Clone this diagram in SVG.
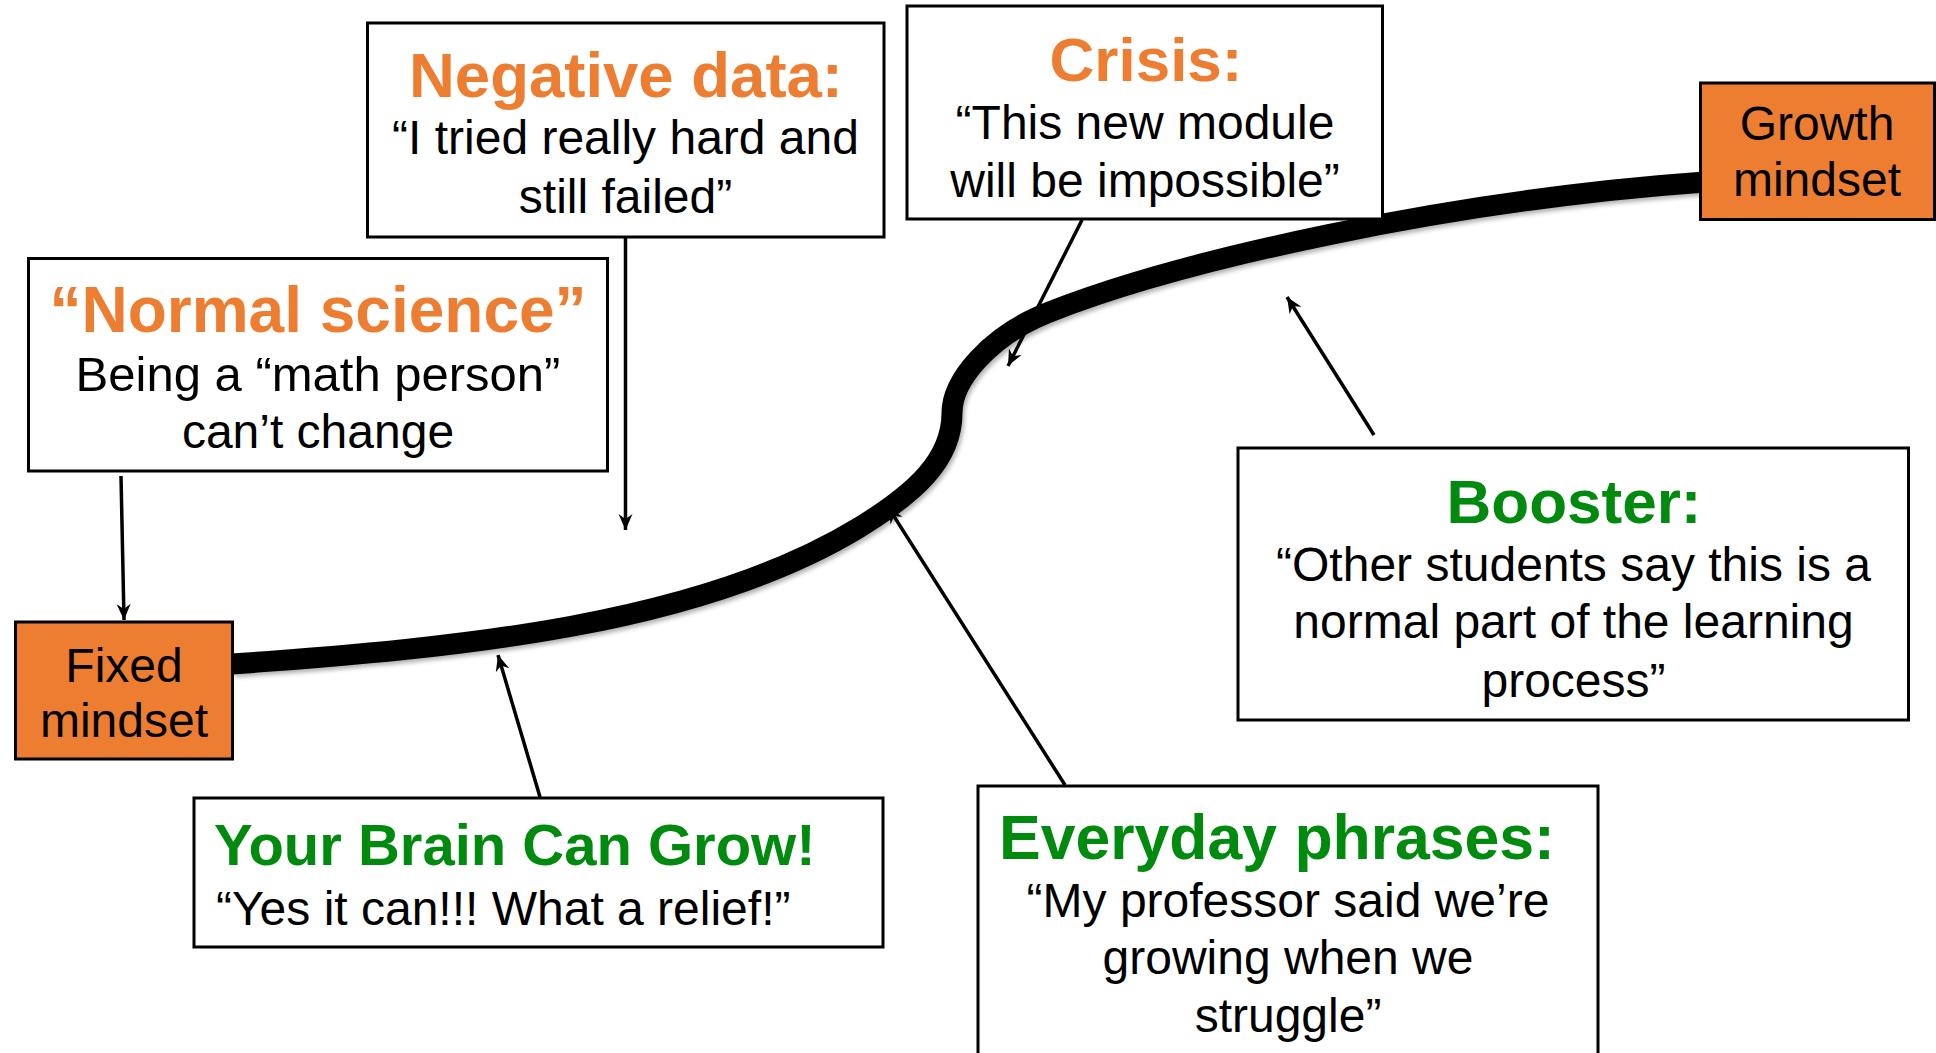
<svg xmlns="http://www.w3.org/2000/svg" width="1936" height="1053" viewBox="0 0 1936 1053">
  <style>
    .box{fill:#fff;stroke:#000;stroke-width:3}
    .mind{fill:#ED7D31;stroke:#000;stroke-width:3}
    .title{font-family:"Liberation Sans",Arial,sans-serif;font-weight:bold;font-size:62px}
    .orange{fill:#ED7D31}
    .green{fill:#008A0E}
    .body{font-family:"Liberation Sans",Arial,sans-serif;font-size:48px;fill:#000}
    .c{text-anchor:middle}
    .conn{stroke:#000;stroke-width:3.5;fill:none;marker-end:url(#arrow)}
    .journey{stroke:#000;stroke-width:21;fill:none;stroke-linecap:butt}
  </style>
  <defs>
    <marker id="arrow" markerUnits="userSpaceOnUse" viewBox="-17 -8 18 16" refX="0" refY="0" markerWidth="18" markerHeight="16" orient="auto">
      <path d="M0,0 L-16,-7 L-11,0 L-16,7 Z" fill="#000"/>
    </marker>
    <filter id="shadow" x="-5%" y="-10%" width="110%" height="130%">
      <feDropShadow dx="2" dy="3" stdDeviation="2" flood-color="#000" flood-opacity="0.3"/>
    </filter>
  </defs>

  <rect width="1936" height="1053" fill="#fff"/>

  <!-- the road from fixed to growth mindset -->
  <g id="journey">
    <path class="journey" filter="url(#shadow)" d="M232,664 C460,648 700,625 860,527 C915,493 952,460 952,413 C952,380 990,336 1047,313 C1180,260 1450,200 1705,182"/>
  </g>

  <!-- thin arrows between the boxes and the road -->
  <g id="connectors">
    <path class="conn" d="M121,476 L124,620"/>
    <path class="conn" d="M625.5,237 L625.5,530"/>
    <path class="conn" d="M1082,220 L1008,366"/>
    <path class="conn" d="M1374,435 L1287,297"/>
    <path class="conn" d="M540,797 L498,655"/>
    <path class="conn" d="M1065,785 L888,507"/>
  </g>

  <g id="negative-data">
    <rect class="box" x="367.5" y="23" width="516.5" height="214"/>
    <text class="title orange c" x="626" y="96.5" style="font-size:63.5px">Negative data:</text>
    <text class="body c" x="625.5" y="154.3">“I tried really hard and</text>
    <text class="body c" x="625.5" y="213">still failed”</text>
  </g>

  <g id="crisis">
    <rect class="box" x="907" y="6" width="475.5" height="213"/>
    <text class="title orange c" x="1146" y="80.7">Crisis:</text>
    <text class="body c" x="1145" y="138.5">“This new module</text>
    <text class="body c" x="1145" y="197">will be impossible”</text>
  </g>

  <g id="growth-mindset">
    <rect class="mind" x="1700.5" y="83" width="234" height="136.5"/>
    <text class="body c" x="1817" y="140.3">Growth</text>
    <text class="body c" x="1817" y="196.4">mindset</text>
  </g>

  <g id="normal-science">
    <rect class="box" x="28.5" y="258.5" width="579" height="212.5"/>
    <text class="title orange c" x="318" y="332" style="font-size:64px">“Normal science”</text>
    <text class="body c" x="318" y="390.5" style="font-size:49px">Being a “math person”</text>
    <text class="body c" x="318" y="448">can’t change</text>
  </g>

  <g id="booster">
    <rect class="box" x="1238" y="448" width="670.5" height="272"/>
    <text class="title green c" x="1574" y="523">Booster:</text>
    <text class="body c" x="1573.5" y="580.7">“Other students say this is a</text>
    <text class="body c" x="1573.5" y="638">normal part of the learning</text>
    <text class="body c" x="1573.5" y="696.5">process”</text>
  </g>

  <g id="fixed-mindset">
    <rect class="mind" x="15.5" y="622" width="217" height="137"/>
    <text class="body c" x="124" y="681.8">Fixed</text>
    <text class="body c" x="124" y="737">mindset</text>
  </g>

  <g id="brain-can-grow">
    <rect class="box" x="194" y="798" width="689" height="149"/>
    <text class="title green" x="214" y="865" style="font-size:58px">Your Brain Can Grow!</text>
    <text class="body" x="216" y="924.8">“Yes it can!!! What a relief!”</text>
  </g>

  <g id="everyday-phrases">
    <rect class="box" x="978" y="786" width="620" height="290"/>
    <text class="title green c" x="1277" y="859" style="font-size:62.5px">Everyday phrases:</text>
    <text class="body c" x="1288" y="916.6">“My professor said we’re</text>
    <text class="body c" x="1288" y="974">growing when we</text>
    <text class="body c" x="1288" y="1031.6">struggle”</text>
  </g>
</svg>
